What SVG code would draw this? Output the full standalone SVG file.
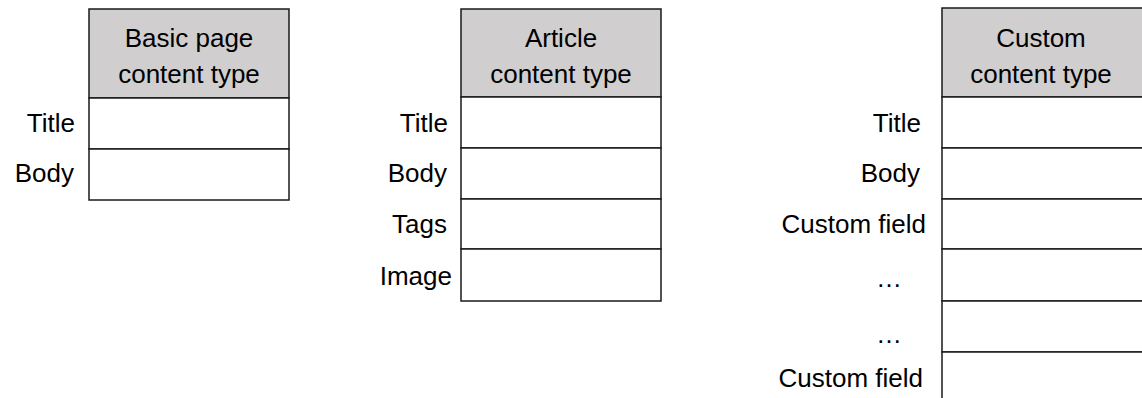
<svg xmlns="http://www.w3.org/2000/svg" width="1142" height="398" viewBox="0 0 1142 398">
<style>
.hdr{fill:#d0cece;stroke:#1a1a1a;stroke-width:1.5}
.row{fill:#ffffff;stroke:#1a1a1a;stroke-width:1.5}
text{font-family:"Liberation Sans",Arial,sans-serif;font-size:26px;fill:#000}
.c{text-anchor:middle}
.r{text-anchor:end}
</style>
<rect width="1142" height="398" fill="#ffffff"/>
<g id="basic-page">
<rect class="hdr" x="89" y="9" width="200" height="89"/>
<text class="c" x="189" y="47">Basic page</text>
<text class="c" x="189" y="83">content type</text>
<rect class="row" x="89" y="98" width="200" height="51"/>
<rect class="row" x="89" y="149" width="200" height="51"/>
<text class="r" x="75" y="132">Title</text>
<text class="r" x="74" y="182">Body</text>
</g>
<g id="article">
<rect class="hdr" x="461" y="9" width="200" height="88"/>
<text class="c" x="561" y="47">Article</text>
<text class="c" x="561" y="83">content type</text>
<rect class="row" x="461" y="97" width="200" height="51"/>
<rect class="row" x="461" y="148" width="200" height="51"/>
<rect class="row" x="461" y="199" width="200" height="50"/>
<rect class="row" x="461" y="249" width="200" height="52"/>
<text class="r" x="448" y="132">Title</text>
<text class="r" x="447" y="182">Body</text>
<text class="r" x="447" y="233">Tags</text>
<text class="r" x="452" y="285">Image</text>
</g>
<g id="custom">
<rect class="hdr" x="942" y="8" width="202" height="89"/>
<text class="c" x="1041" y="47">Custom</text>
<text class="c" x="1041" y="83">content type</text>
<rect class="row" x="942" y="97" width="202" height="51"/>
<rect class="row" x="942" y="148" width="202" height="51"/>
<rect class="row" x="942" y="199" width="202" height="50"/>
<rect class="row" x="942" y="249" width="202" height="52"/>
<rect class="row" x="942" y="301" width="202" height="51"/>
<rect class="row" x="942" y="352" width="202" height="50"/>
<text class="r" x="921" y="132">Title</text>
<text class="r" x="920" y="182">Body</text>
<text class="r" x="926" y="233">Custom field</text>
<text class="c" x="889" y="287">…</text>
<text class="c" x="889" y="343">…</text>
<text class="r" x="923" y="387">Custom field</text>
</g>
</svg>
